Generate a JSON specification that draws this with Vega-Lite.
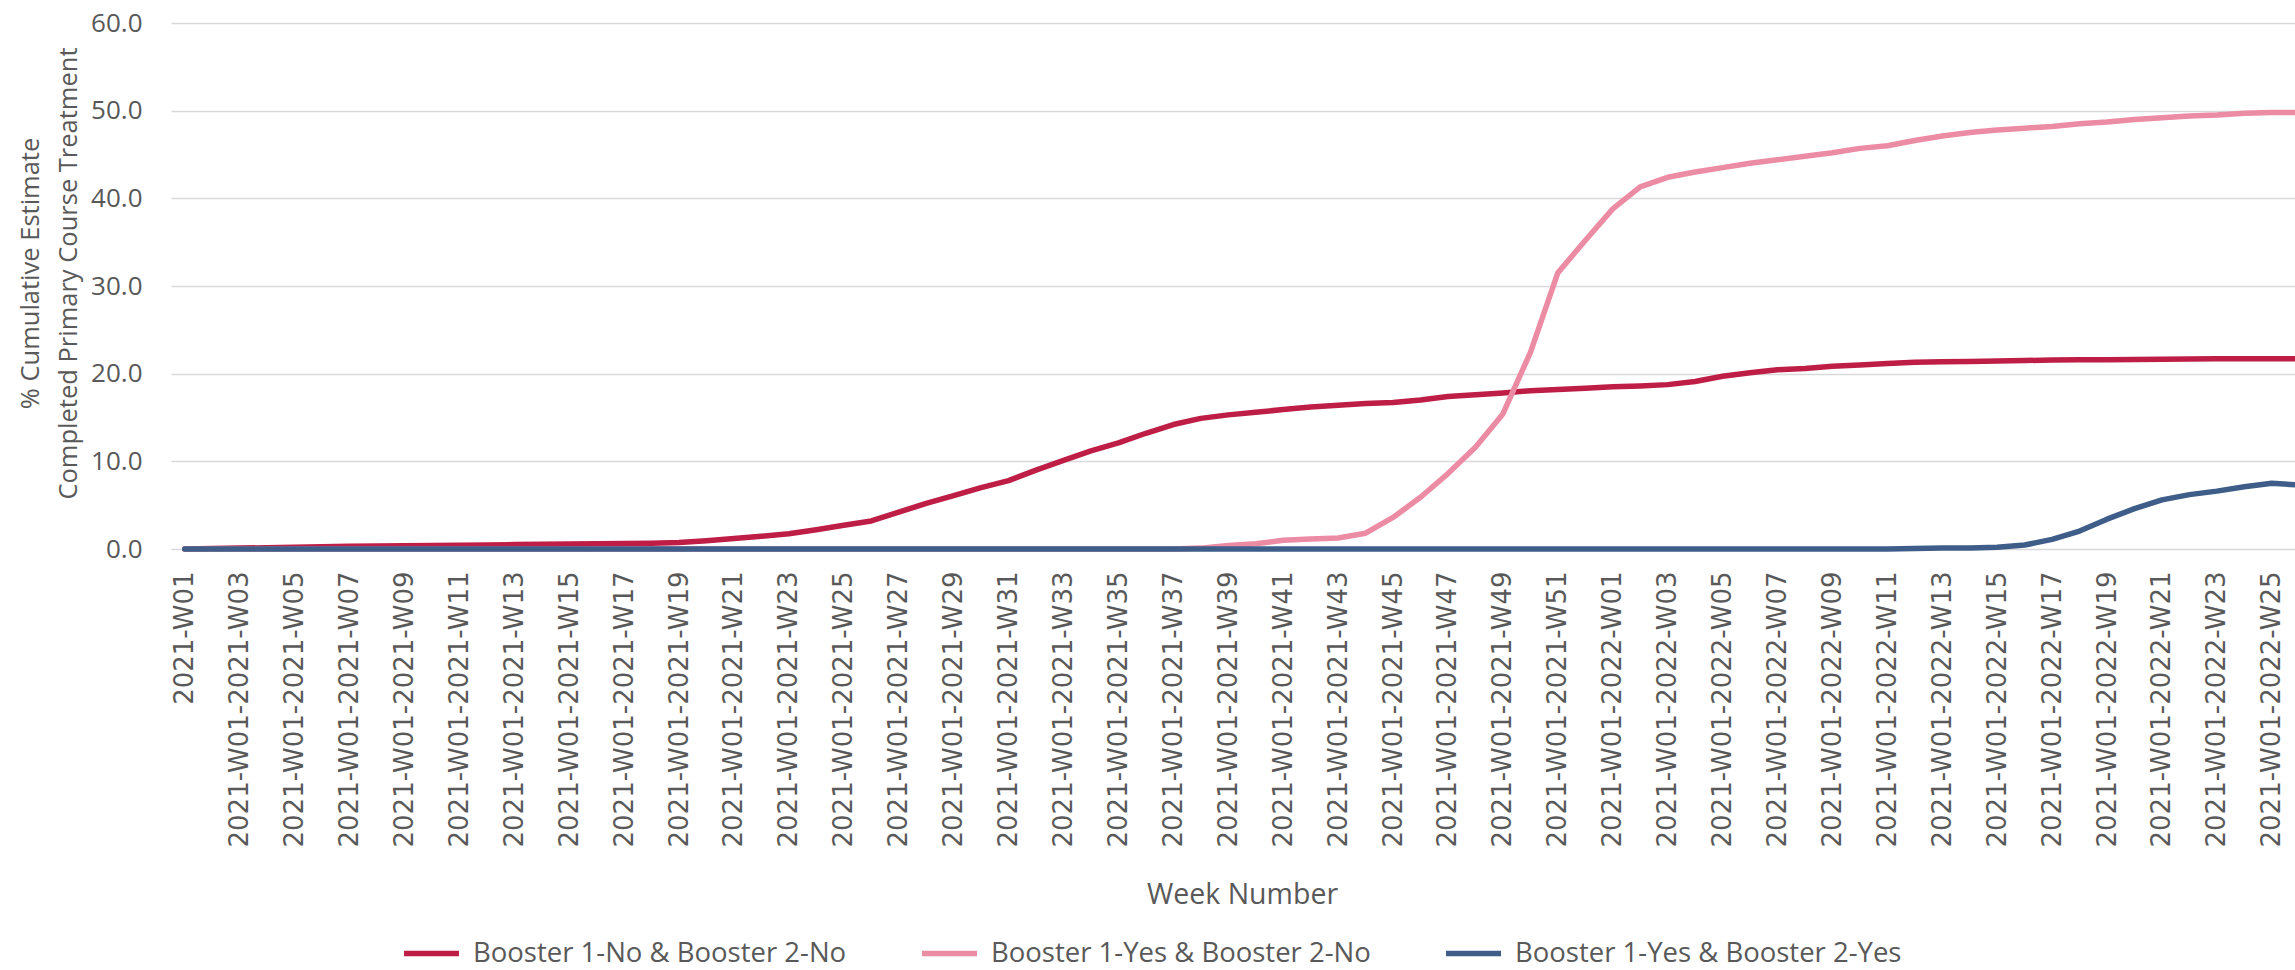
{
  "$schema": "https://vega.github.io/schema/vega-lite/v6.json",
  "width": 2142,
  "height": 526,
  "autosize": "none",
  "padding": {"left": 171, "top": 23, "right": 0, "bottom": 421},
  "background": "white",
  "data": {"values": [
    {"w":"2021-W01","Booster 1-No & Booster 2-No":0,"Booster 1-Yes & Booster 2-No":0,"Booster 1-Yes & Booster 2-Yes":0},
    {"w":"2021-W01-2021-W02","Booster 1-No & Booster 2-No":0.05,"Booster 1-Yes & Booster 2-No":0,"Booster 1-Yes & Booster 2-Yes":0},
    {"w":"2021-W01-2021-W03","Booster 1-No & Booster 2-No":0.1,"Booster 1-Yes & Booster 2-No":0,"Booster 1-Yes & Booster 2-Yes":0},
    {"w":"2021-W01-2021-W04","Booster 1-No & Booster 2-No":0.15,"Booster 1-Yes & Booster 2-No":0,"Booster 1-Yes & Booster 2-Yes":0},
    {"w":"2021-W01-2021-W05","Booster 1-No & Booster 2-No":0.2,"Booster 1-Yes & Booster 2-No":0,"Booster 1-Yes & Booster 2-Yes":0},
    {"w":"2021-W01-2021-W06","Booster 1-No & Booster 2-No":0.25,"Booster 1-Yes & Booster 2-No":0,"Booster 1-Yes & Booster 2-Yes":0},
    {"w":"2021-W01-2021-W07","Booster 1-No & Booster 2-No":0.3,"Booster 1-Yes & Booster 2-No":0,"Booster 1-Yes & Booster 2-Yes":0},
    {"w":"2021-W01-2021-W08","Booster 1-No & Booster 2-No":0.33,"Booster 1-Yes & Booster 2-No":0,"Booster 1-Yes & Booster 2-Yes":0},
    {"w":"2021-W01-2021-W09","Booster 1-No & Booster 2-No":0.36,"Booster 1-Yes & Booster 2-No":0,"Booster 1-Yes & Booster 2-Yes":0},
    {"w":"2021-W01-2021-W10","Booster 1-No & Booster 2-No":0.4,"Booster 1-Yes & Booster 2-No":0,"Booster 1-Yes & Booster 2-Yes":0},
    {"w":"2021-W01-2021-W11","Booster 1-No & Booster 2-No":0.42,"Booster 1-Yes & Booster 2-No":0,"Booster 1-Yes & Booster 2-Yes":0},
    {"w":"2021-W01-2021-W12","Booster 1-No & Booster 2-No":0.45,"Booster 1-Yes & Booster 2-No":0,"Booster 1-Yes & Booster 2-Yes":0},
    {"w":"2021-W01-2021-W13","Booster 1-No & Booster 2-No":0.5,"Booster 1-Yes & Booster 2-No":0,"Booster 1-Yes & Booster 2-Yes":0},
    {"w":"2021-W01-2021-W14","Booster 1-No & Booster 2-No":0.53,"Booster 1-Yes & Booster 2-No":0,"Booster 1-Yes & Booster 2-Yes":0},
    {"w":"2021-W01-2021-W15","Booster 1-No & Booster 2-No":0.56,"Booster 1-Yes & Booster 2-No":0,"Booster 1-Yes & Booster 2-Yes":0},
    {"w":"2021-W01-2021-W16","Booster 1-No & Booster 2-No":0.6,"Booster 1-Yes & Booster 2-No":0,"Booster 1-Yes & Booster 2-Yes":0},
    {"w":"2021-W01-2021-W17","Booster 1-No & Booster 2-No":0.63,"Booster 1-Yes & Booster 2-No":0,"Booster 1-Yes & Booster 2-Yes":0},
    {"w":"2021-W01-2021-W18","Booster 1-No & Booster 2-No":0.67,"Booster 1-Yes & Booster 2-No":0,"Booster 1-Yes & Booster 2-Yes":0},
    {"w":"2021-W01-2021-W19","Booster 1-No & Booster 2-No":0.75,"Booster 1-Yes & Booster 2-No":0,"Booster 1-Yes & Booster 2-Yes":0},
    {"w":"2021-W01-2021-W20","Booster 1-No & Booster 2-No":0.95,"Booster 1-Yes & Booster 2-No":0,"Booster 1-Yes & Booster 2-Yes":0},
    {"w":"2021-W01-2021-W21","Booster 1-No & Booster 2-No":1.2,"Booster 1-Yes & Booster 2-No":0,"Booster 1-Yes & Booster 2-Yes":0},
    {"w":"2021-W01-2021-W22","Booster 1-No & Booster 2-No":1.45,"Booster 1-Yes & Booster 2-No":0,"Booster 1-Yes & Booster 2-Yes":0},
    {"w":"2021-W01-2021-W23","Booster 1-No & Booster 2-No":1.75,"Booster 1-Yes & Booster 2-No":0,"Booster 1-Yes & Booster 2-Yes":0},
    {"w":"2021-W01-2021-W24","Booster 1-No & Booster 2-No":2.2,"Booster 1-Yes & Booster 2-No":0,"Booster 1-Yes & Booster 2-Yes":0},
    {"w":"2021-W01-2021-W25","Booster 1-No & Booster 2-No":2.7,"Booster 1-Yes & Booster 2-No":0,"Booster 1-Yes & Booster 2-Yes":0},
    {"w":"2021-W01-2021-W26","Booster 1-No & Booster 2-No":3.2,"Booster 1-Yes & Booster 2-No":0,"Booster 1-Yes & Booster 2-Yes":0},
    {"w":"2021-W01-2021-W27","Booster 1-No & Booster 2-No":4.2,"Booster 1-Yes & Booster 2-No":0,"Booster 1-Yes & Booster 2-Yes":0},
    {"w":"2021-W01-2021-W28","Booster 1-No & Booster 2-No":5.2,"Booster 1-Yes & Booster 2-No":0,"Booster 1-Yes & Booster 2-Yes":0},
    {"w":"2021-W01-2021-W29","Booster 1-No & Booster 2-No":6.1,"Booster 1-Yes & Booster 2-No":0,"Booster 1-Yes & Booster 2-Yes":0},
    {"w":"2021-W01-2021-W30","Booster 1-No & Booster 2-No":7.0,"Booster 1-Yes & Booster 2-No":0,"Booster 1-Yes & Booster 2-Yes":0},
    {"w":"2021-W01-2021-W31","Booster 1-No & Booster 2-No":7.8,"Booster 1-Yes & Booster 2-No":0,"Booster 1-Yes & Booster 2-Yes":0},
    {"w":"2021-W01-2021-W32","Booster 1-No & Booster 2-No":9.0,"Booster 1-Yes & Booster 2-No":0,"Booster 1-Yes & Booster 2-Yes":0},
    {"w":"2021-W01-2021-W33","Booster 1-No & Booster 2-No":10.1,"Booster 1-Yes & Booster 2-No":0,"Booster 1-Yes & Booster 2-Yes":0},
    {"w":"2021-W01-2021-W34","Booster 1-No & Booster 2-No":11.2,"Booster 1-Yes & Booster 2-No":0,"Booster 1-Yes & Booster 2-Yes":0},
    {"w":"2021-W01-2021-W35","Booster 1-No & Booster 2-No":12.1,"Booster 1-Yes & Booster 2-No":0,"Booster 1-Yes & Booster 2-Yes":0},
    {"w":"2021-W01-2021-W36","Booster 1-No & Booster 2-No":13.2,"Booster 1-Yes & Booster 2-No":0,"Booster 1-Yes & Booster 2-Yes":0},
    {"w":"2021-W01-2021-W37","Booster 1-No & Booster 2-No":14.2,"Booster 1-Yes & Booster 2-No":0,"Booster 1-Yes & Booster 2-Yes":0},
    {"w":"2021-W01-2021-W38","Booster 1-No & Booster 2-No":14.9,"Booster 1-Yes & Booster 2-No":0.1,"Booster 1-Yes & Booster 2-Yes":0},
    {"w":"2021-W01-2021-W39","Booster 1-No & Booster 2-No":15.3,"Booster 1-Yes & Booster 2-No":0.4,"Booster 1-Yes & Booster 2-Yes":0},
    {"w":"2021-W01-2021-W40","Booster 1-No & Booster 2-No":15.6,"Booster 1-Yes & Booster 2-No":0.6,"Booster 1-Yes & Booster 2-Yes":0},
    {"w":"2021-W01-2021-W41","Booster 1-No & Booster 2-No":15.9,"Booster 1-Yes & Booster 2-No":1.0,"Booster 1-Yes & Booster 2-Yes":0},
    {"w":"2021-W01-2021-W42","Booster 1-No & Booster 2-No":16.2,"Booster 1-Yes & Booster 2-No":1.15,"Booster 1-Yes & Booster 2-Yes":0},
    {"w":"2021-W01-2021-W43","Booster 1-No & Booster 2-No":16.4,"Booster 1-Yes & Booster 2-No":1.25,"Booster 1-Yes & Booster 2-Yes":0},
    {"w":"2021-W01-2021-W44","Booster 1-No & Booster 2-No":16.6,"Booster 1-Yes & Booster 2-No":1.8,"Booster 1-Yes & Booster 2-Yes":0},
    {"w":"2021-W01-2021-W45","Booster 1-No & Booster 2-No":16.7,"Booster 1-Yes & Booster 2-No":3.6,"Booster 1-Yes & Booster 2-Yes":0},
    {"w":"2021-W01-2021-W46","Booster 1-No & Booster 2-No":17.0,"Booster 1-Yes & Booster 2-No":5.9,"Booster 1-Yes & Booster 2-Yes":0},
    {"w":"2021-W01-2021-W47","Booster 1-No & Booster 2-No":17.4,"Booster 1-Yes & Booster 2-No":8.6,"Booster 1-Yes & Booster 2-Yes":0},
    {"w":"2021-W01-2021-W48","Booster 1-No & Booster 2-No":17.6,"Booster 1-Yes & Booster 2-No":11.6,"Booster 1-Yes & Booster 2-Yes":0},
    {"w":"2021-W01-2021-W49","Booster 1-No & Booster 2-No":17.8,"Booster 1-Yes & Booster 2-No":15.4,"Booster 1-Yes & Booster 2-Yes":0},
    {"w":"2021-W01-2021-W50","Booster 1-No & Booster 2-No":18.05,"Booster 1-Yes & Booster 2-No":22.4,"Booster 1-Yes & Booster 2-Yes":0},
    {"w":"2021-W01-2021-W51","Booster 1-No & Booster 2-No":18.2,"Booster 1-Yes & Booster 2-No":31.5,"Booster 1-Yes & Booster 2-Yes":0},
    {"w":"2021-W01-2021-W52","Booster 1-No & Booster 2-No":18.35,"Booster 1-Yes & Booster 2-No":35.2,"Booster 1-Yes & Booster 2-Yes":0},
    {"w":"2021-W01-2022-W01","Booster 1-No & Booster 2-No":18.5,"Booster 1-Yes & Booster 2-No":38.8,"Booster 1-Yes & Booster 2-Yes":0},
    {"w":"2021-W01-2022-W02","Booster 1-No & Booster 2-No":18.6,"Booster 1-Yes & Booster 2-No":41.3,"Booster 1-Yes & Booster 2-Yes":0},
    {"w":"2021-W01-2022-W03","Booster 1-No & Booster 2-No":18.75,"Booster 1-Yes & Booster 2-No":42.4,"Booster 1-Yes & Booster 2-Yes":0},
    {"w":"2021-W01-2022-W04","Booster 1-No & Booster 2-No":19.1,"Booster 1-Yes & Booster 2-No":43.0,"Booster 1-Yes & Booster 2-Yes":0},
    {"w":"2021-W01-2022-W05","Booster 1-No & Booster 2-No":19.7,"Booster 1-Yes & Booster 2-No":43.5,"Booster 1-Yes & Booster 2-Yes":0},
    {"w":"2021-W01-2022-W06","Booster 1-No & Booster 2-No":20.1,"Booster 1-Yes & Booster 2-No":44.0,"Booster 1-Yes & Booster 2-Yes":0},
    {"w":"2021-W01-2022-W07","Booster 1-No & Booster 2-No":20.45,"Booster 1-Yes & Booster 2-No":44.4,"Booster 1-Yes & Booster 2-Yes":0},
    {"w":"2021-W01-2022-W08","Booster 1-No & Booster 2-No":20.6,"Booster 1-Yes & Booster 2-No":44.8,"Booster 1-Yes & Booster 2-Yes":0},
    {"w":"2021-W01-2022-W09","Booster 1-No & Booster 2-No":20.85,"Booster 1-Yes & Booster 2-No":45.2,"Booster 1-Yes & Booster 2-Yes":0},
    {"w":"2021-W01-2022-W10","Booster 1-No & Booster 2-No":21.0,"Booster 1-Yes & Booster 2-No":45.7,"Booster 1-Yes & Booster 2-Yes":0},
    {"w":"2021-W01-2022-W11","Booster 1-No & Booster 2-No":21.15,"Booster 1-Yes & Booster 2-No":46.0,"Booster 1-Yes & Booster 2-Yes":0},
    {"w":"2021-W01-2022-W12","Booster 1-No & Booster 2-No":21.3,"Booster 1-Yes & Booster 2-No":46.6,"Booster 1-Yes & Booster 2-Yes":0.05},
    {"w":"2021-W01-2022-W13","Booster 1-No & Booster 2-No":21.35,"Booster 1-Yes & Booster 2-No":47.1,"Booster 1-Yes & Booster 2-Yes":0.1},
    {"w":"2021-W01-2022-W14","Booster 1-No & Booster 2-No":21.4,"Booster 1-Yes & Booster 2-No":47.5,"Booster 1-Yes & Booster 2-Yes":0.1},
    {"w":"2021-W01-2022-W15","Booster 1-No & Booster 2-No":21.45,"Booster 1-Yes & Booster 2-No":47.8,"Booster 1-Yes & Booster 2-Yes":0.2},
    {"w":"2021-W01-2022-W16","Booster 1-No & Booster 2-No":21.5,"Booster 1-Yes & Booster 2-No":48.0,"Booster 1-Yes & Booster 2-Yes":0.45},
    {"w":"2021-W01-2022-W17","Booster 1-No & Booster 2-No":21.55,"Booster 1-Yes & Booster 2-No":48.2,"Booster 1-Yes & Booster 2-Yes":1.1},
    {"w":"2021-W01-2022-W18","Booster 1-No & Booster 2-No":21.6,"Booster 1-Yes & Booster 2-No":48.5,"Booster 1-Yes & Booster 2-Yes":2.05},
    {"w":"2021-W01-2022-W19","Booster 1-No & Booster 2-No":21.6,"Booster 1-Yes & Booster 2-No":48.7,"Booster 1-Yes & Booster 2-Yes":3.4},
    {"w":"2021-W01-2022-W20","Booster 1-No & Booster 2-No":21.62,"Booster 1-Yes & Booster 2-No":49.0,"Booster 1-Yes & Booster 2-Yes":4.6},
    {"w":"2021-W01-2022-W21","Booster 1-No & Booster 2-No":21.65,"Booster 1-Yes & Booster 2-No":49.2,"Booster 1-Yes & Booster 2-Yes":5.6},
    {"w":"2021-W01-2022-W22","Booster 1-No & Booster 2-No":21.67,"Booster 1-Yes & Booster 2-No":49.4,"Booster 1-Yes & Booster 2-Yes":6.2},
    {"w":"2021-W01-2022-W23","Booster 1-No & Booster 2-No":21.7,"Booster 1-Yes & Booster 2-No":49.5,"Booster 1-Yes & Booster 2-Yes":6.6},
    {"w":"2021-W01-2022-W24","Booster 1-No & Booster 2-No":21.7,"Booster 1-Yes & Booster 2-No":49.7,"Booster 1-Yes & Booster 2-Yes":7.1},
    {"w":"2021-W01-2022-W25","Booster 1-No & Booster 2-No":21.7,"Booster 1-Yes & Booster 2-No":49.8,"Booster 1-Yes & Booster 2-Yes":7.5},
    {"w":"2021-W01-2022-W26","Booster 1-No & Booster 2-No":21.7,"Booster 1-Yes & Booster 2-No":49.8,"Booster 1-Yes & Booster 2-Yes":7.3}
  ]},
  "transform": [
    {"fold": ["Booster 1-No & Booster 2-No", "Booster 1-Yes & Booster 2-No", "Booster 1-Yes & Booster 2-Yes"], "as": ["series", "value"]}
  ],
  "mark": {"type": "line", "strokeWidth": 5.5, "strokeJoin": "round", "strokeCap": "round"},
  "encoding": {
    "x": {
      "field": "w", "type": "nominal", "sort": null,
      "scale": {"type": "point", "padding": 0.5},
      "axis": {
        "title": "Week Number",
        "values": ["2021-W01","2021-W01-2021-W03","2021-W01-2021-W05","2021-W01-2021-W07","2021-W01-2021-W09","2021-W01-2021-W11","2021-W01-2021-W13","2021-W01-2021-W15","2021-W01-2021-W17","2021-W01-2021-W19","2021-W01-2021-W21","2021-W01-2021-W23","2021-W01-2021-W25","2021-W01-2021-W27","2021-W01-2021-W29","2021-W01-2021-W31","2021-W01-2021-W33","2021-W01-2021-W35","2021-W01-2021-W37","2021-W01-2021-W39","2021-W01-2021-W41","2021-W01-2021-W43","2021-W01-2021-W45","2021-W01-2021-W47","2021-W01-2021-W49","2021-W01-2021-W51","2021-W01-2022-W01","2021-W01-2022-W03","2021-W01-2022-W05","2021-W01-2022-W07","2021-W01-2022-W09","2021-W01-2022-W11","2021-W01-2022-W13","2021-W01-2022-W15","2021-W01-2022-W17","2021-W01-2022-W19","2021-W01-2022-W21","2021-W01-2022-W23","2021-W01-2022-W25"],
        "labelAngle": -90,
        "labelFont": "DejaVu Sans",
        "labelFontSize": 26,
        "labelColor": "#595959",
        "labelPadding": 22,
        "labelOverlap": false,
        "labelLimit": 400,
        "ticks": false,
        "domain": false,
        "grid": false,
        "titleFont": "Open Sans",
        "titleFontSize": 28.5,
        "titleFontWeight": "normal",
        "titleColor": "#595959",
        "titleBaseline": "middle",
        "titleY": 345
      }
    },
    "y": {
      "field": "value", "type": "quantitative",
      "scale": {"domain": [0, 60], "nice": false},
      "axis": {
        "title": ["% Cumulative Estimate", "Completed Primary Course Treatment"],
        "values": [0, 10, 20, 30, 40, 50, 60],
        "format": ".1f",
        "labelFont": "Open Sans",
        "labelFontSize": 26,
        "labelColor": "#595959",
        "labelPadding": 29,
        "ticks": false,
        "domain": false,
        "grid": true,
        "gridColor": "#D9D9D9",
        "gridWidth": 1.5,
        "titleFont": "Open Sans",
        "titleFontSize": 25.5,
        "titleFontWeight": "normal",
        "titleColor": "#595959",
        "titleLineHeight": 38,
        "titlePadding": 9,
        "titleY": 250
      }
    },
    "color": {
      "field": "series", "type": "nominal",
      "scale": {
        "domain": ["Booster 1-No & Booster 2-No", "Booster 1-Yes & Booster 2-No", "Booster 1-Yes & Booster 2-Yes"],
        "range": ["#BE1E46", "#EC8BA4", "#3E5D89"]
      },
      "legend": {
        "title": null,
        "orient": "none",
        "direction": "horizontal",
        "legendX": 230,
        "legendY": 900,
        "symbolType": "stroke",
        "symbolSize": 3025,
        "symbolStrokeWidth": 5.5,
        "labelFont": "Open Sans",
        "labelFontSize": 27.5,
        "labelColor": "#595959",
        "labelOffset": 11,
        "columnPadding": 64,
        "labelLimit": 600
      }
    }
  },
  "config": {"view": {"stroke": null}}
}
